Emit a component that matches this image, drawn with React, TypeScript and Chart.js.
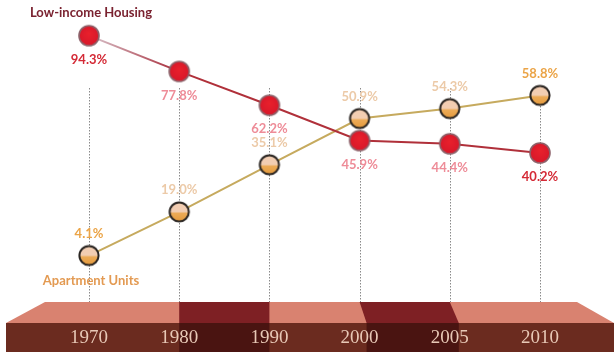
import React, { useEffect, useRef } from "react";
import { Chart, registerables } from "chart.js";

Chart.register(...registerables);

const years = ["1970", "1980", "1990", "2000", "2005", "2010"];
const lowIncomeHousing = [94.3, 77.8, 62.2, 45.9, 44.4, 40.2];
const apartmentUnits = [4.1, 19.0, 35.1, 50.9, 54.3, 58.8];
const lowIncomeName = "Low-income Housing";
const apartmentName = "Apartment Units";

const LABEL_FONT = "bold 13px Lato, 'Open Sans', sans-serif";

function makeBall(kind: "red" | "orange"): HTMLCanvasElement {
  const c = document.createElement("canvas");
  c.width = 24;
  c.height = 24;
  const g = c.getContext("2d")!;
  const cx = 12, cy = 12, r = kind === "red" ? 10 : 9.6;
  if (kind === "orange") {
    g.save();
    g.beginPath();
    g.arc(cx, cy, r, 0, Math.PI * 2);
    g.clip();
    g.fillStyle = "#f2cdb2";
    g.fillRect(0, 0, 24, 24);
    const grd = g.createLinearGradient(0, cy, 0, cy + r);
    grd.addColorStop(0, "#eeae5c");
    grd.addColorStop(1, "#e59a3c");
    g.fillStyle = grd;
    g.fillRect(0, cy + 0.5, 24, 24);
    g.restore();
    g.beginPath();
    g.arc(cx, cy, r, 0, Math.PI * 2);
    g.lineWidth = 2;
    g.strokeStyle = "#2a2522";
    g.stroke();
  } else {
    g.beginPath();
    g.arc(cx, cy, r, 0, Math.PI * 2);
    const grd = g.createRadialGradient(cx, cy - 2, 1, cx, cy, r);
    grd.addColorStop(0, "#e8202c");
    grd.addColorStop(1, "#d8182a");
    g.fillStyle = grd;
    g.fill();
    g.lineWidth = 1.6;
    g.strokeStyle = "#8c6068";
    g.stroke();
  }
  return c;
}

const bandPlugin = {
  id: "band",
  beforeDraw(chart: any) {
    const { ctx, scales } = chart;
    const x = scales.x;
    const W = chart.width;
    const topY = 302, midY = 323, botY = chart.height;
    const x80 = x.getPixelForValue(1);
    const x90 = x.getPixelForValue(2);
    const x00 = x.getPixelForValue(3);
    const x05 = x.getPixelForValue(4);
    ctx.save();
    ctx.fillStyle = "#ffffff";
    ctx.fillRect(0, 0, W, chart.height);
    ctx.fillStyle = "#d98270";
    ctx.beginPath();
    ctx.moveTo(45, topY);
    ctx.lineTo(577, topY);
    ctx.lineTo(W, midY);
    ctx.lineTo(6, midY);
    ctx.closePath();
    ctx.fill();
    ctx.fillStyle = "#6b2b1f";
    ctx.fillRect(6, midY, W - 6, botY - midY);
    ctx.fillStyle = "#7e2024";
    ctx.fillRect(x80, topY, x90 - x80, midY - topY);
    ctx.beginPath();
    ctx.moveTo(x00, topY);
    ctx.lineTo(x05, topY);
    ctx.lineTo(x05 + 9, midY);
    ctx.lineTo(x00 + 7, midY);
    ctx.closePath();
    ctx.fill();
    ctx.fillStyle = "#4a1411";
    ctx.fillRect(x80, midY, x90 - x80, botY - midY);
    ctx.fillRect(x00 + 7, midY, x05 + 9 - (x00 + 7), botY - midY);
    ctx.restore();
  },
  beforeDatasetsDraw(chart: any) {
    const { ctx, scales } = chart;
    const x = scales.x;
    ctx.save();
    ctx.strokeStyle = "#8a8a8a";
    ctx.lineWidth = 1;
    ctx.setLineDash([1.5, 1.5]);
    years.forEach((_, i) => {
      const px = Math.round(x.getPixelForValue(i)) + 0.5;
      ctx.beginPath();
      ctx.moveTo(px, 88);
      ctx.lineTo(px, 302);
      ctx.stroke();
    });
    ctx.restore();
  },
  afterDatasetsDraw(chart: any) {
    const { ctx } = chart;
    ctx.save();
    ctx.font = LABEL_FONT;
    ctx.textAlign = "center";
    ctx.textBaseline = "middle";
    const m0 = chart.getDatasetMeta(0);
    lowIncomeHousing.forEach((v, i) => {
      const p = m0.data[i];
      const strong = i === 0 || i === lowIncomeHousing.length - 1;
      ctx.fillStyle = strong ? "#d42a36" : "#ee8c98";
      ctx.fillText(v.toFixed(1) + "%", p.x, p.y + 24);
    });
    const m1 = chart.getDatasetMeta(1);
    apartmentUnits.forEach((v, i) => {
      const p = m1.data[i];
      const strong = i === 0 || i === apartmentUnits.length - 1;
      ctx.fillStyle = strong ? "#eba447" : "#eccaa8";
      ctx.fillText(v.toFixed(1) + "%", p.x, p.y - 22);
    });
    const x0 = chart.scales.x.getPixelForValue(0);
    ctx.fillStyle = "#7a2230";
    ctx.fillText(lowIncomeName, x0 + 2, 13);
    ctx.fillStyle = "#e39a52";
    ctx.fillText(apartmentName, x0 + 2, 281);
    ctx.restore();
  },
};

export default function App() {
  const ref = useRef<HTMLCanvasElement>(null);
  useEffect(() => {
    const redBall = makeBall("red");
    const orangeBall = makeBall("orange");
    const chart = new Chart(ref.current!, {
      type: "line",
      data: {
        labels: years,
        datasets: [
          {
            label: lowIncomeName,
            data: lowIncomeHousing,
            yAxisID: "yLow",
            borderColor: "#b0303a",
            borderWidth: 2,
            pointStyle: redBall as any,
            pointRadius: 10,
            tension: 0,
            segment: {
              borderColor: (c: any) => {
                if (c.p0DataIndex !== 0) return "#b0303a";
                const g = c.chart.ctx.createLinearGradient(c.p0.x, 0, c.p1.x, 0);
                g.addColorStop(0, "#d8c4cc");
                g.addColorStop(1, "#a82a38");
                return g;
              },
            },
          },
          {
            label: apartmentName,
            data: apartmentUnits,
            yAxisID: "yApt",
            borderColor: "#c6aa5e",
            borderWidth: 2,
            pointStyle: orangeBall as any,
            pointRadius: 10,
            tension: 0,
          },
        ],
      },
      options: {
        animation: false,
        responsive: true,
        maintainAspectRatio: false,
        layout: { padding: { left: 89, right: 74, top: 0, bottom: 0 } },
        plugins: { legend: { display: false }, tooltip: { enabled: false } },
        scales: {
          x: {
            type: "category",
            offset: false,
            grid: { display: false, drawTicks: false },
            border: { display: false },
            ticks: {
              color: "#e8c8b6",
              font: { family: "'Liberation Serif', 'DejaVu Serif', serif", size: 19 },
              padding: 5,
              maxRotation: 0,
              autoSkip: false,
            },
            afterFit: (s: any) => {
              s.height = 30;
            },
          },
          yLow: { type: "linear", display: false, min: -37.8, max: 105.2 },
          yApt: { type: "linear", display: false, min: -18.6, max: 87.3 },
        },
      },
      plugins: [bandPlugin],
    });
    return () => chart.destroy();
  }, []);
  return (
    <div style={{ position: "fixed", left: 0, top: 0, width: 614, height: 352 }}>
      <canvas ref={ref} />
    </div>
  );
}
